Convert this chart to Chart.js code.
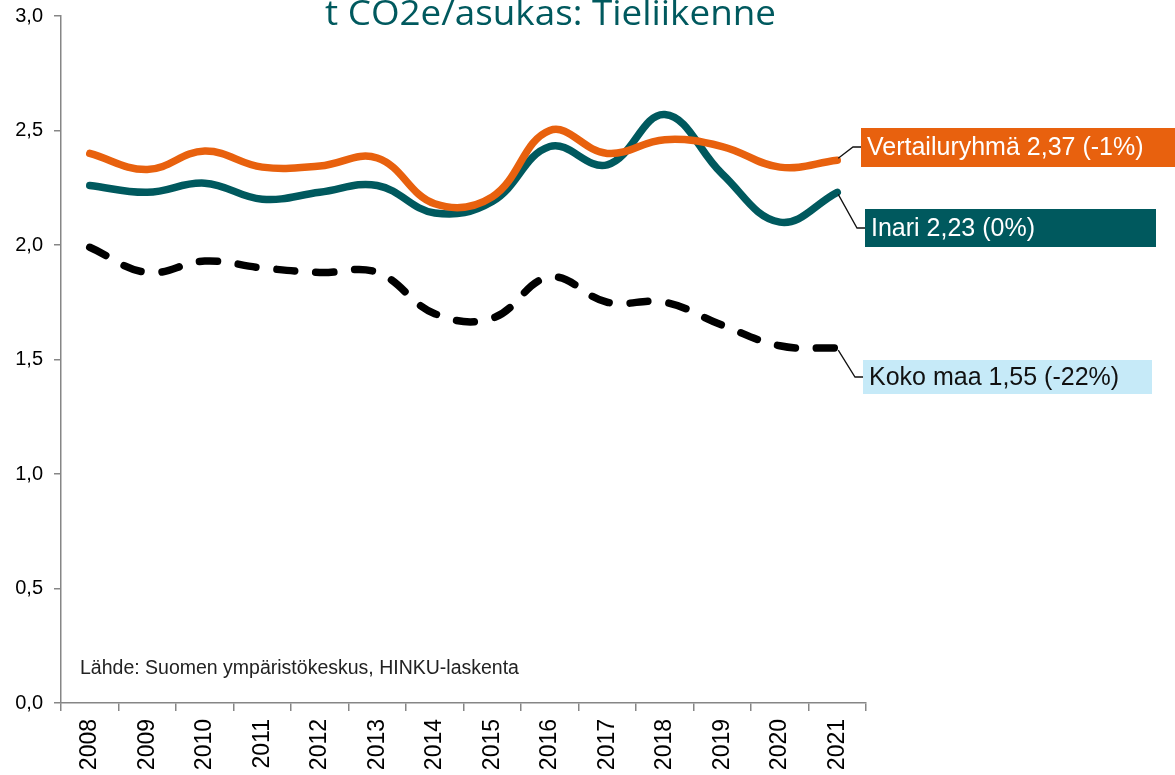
<!DOCTYPE html>
<html>
<head>
<meta charset="utf-8">
<script src="https://cdn.jsdelivr.net/npm/chart.js@4.4.0/dist/chart.umd.min.js"></script>
<style>
  html, body { margin: 0; padding: 0; background: #fff; }
  #wrap { width: 1175px; height: 775px; position: relative; }
</style>
</head>
<body>
<div id="wrap"><canvas id="chart"></canvas></div>
<script>
// data
const years = ["2008", "2009", "2010", "2011", "2012", "2013", "2014", "2015", "2016", "2017", "2018", "2019", "2020", "2021"];
const vertailuryhma = [2.40, 2.33, 2.41, 2.34, 2.345, 2.38, 2.18, 2.21, 2.50, 2.40, 2.46, 2.43, 2.34, 2.37];
const inari = [2.26, 2.23, 2.27, 2.20, 2.23, 2.26, 2.14, 2.19, 2.43, 2.35, 2.57, 2.31, 2.10, 2.23];
const kokoMaa = [1.99, 1.88, 1.93, 1.90, 1.88, 1.88, 1.70, 1.68, 1.86, 1.75, 1.75, 1.65, 1.56, 1.55];
const yTicks = [0, 0.5, 1, 1.5, 2, 2.5, 3];

const seriesLabels = ["Vertailuryhmä 2,37 (-1%)", "Inari 2,23 (0%)", "Koko maa 1,55 (-22%)"];

const ORANGE = "#E8610E";
const TEAL = "#00595E";
const LIGHTBLUE = "#C6EAF8";
const AXIS = "#868686";

// title, source note and end labels
const extras = {
  id: "extras",
  afterDraw(chart) {
    const ctx = chart.ctx;
    ctx.save();

    // title is a bit wider than the font, stretch it to the same width
    const title = "t CO2e/asukas: Tieliikenne";
    ctx.fillStyle = TEAL;
    ctx.font = "34px 'Open Sans'";
    ctx.textAlign = "left";
    ctx.textBaseline = "alphabetic";
    const tw = ctx.measureText(title).width;
    ctx.save();
    ctx.translate(325, 25);
    ctx.scale(451 / tw, 1);
    ctx.fillText(title, 0, 0);
    ctx.restore();

    ctx.fillStyle = "#222";
    ctx.font = "19.5px 'Liberation Sans', Arial";
    ctx.fillText("Lähde: Suomen ympäristökeskus, HINKU-laskenta", 80, 674);

    const boxes = [
      { x: 861, y: 128, w: 320, h: 39, bg: ORANGE, fg: "#fff", ly: 147, lx: 853 },
      { x: 865, y: 209, w: 291, h: 38, bg: TEAL, fg: "#fff", ly: 228, lx: 857 },
      { x: 863, y: 360, w: 289, h: 34, bg: LIGHTBLUE, fg: "#111", ly: 377, lx: 855 },
    ];
    boxes.forEach((b, i) => {
      const meta = chart.getDatasetMeta(i);
      const pt = meta.data[meta.data.length - 1];
      ctx.strokeStyle = "#111";
      ctx.lineWidth = 1.3;
      ctx.beginPath();
      ctx.moveTo(pt.x + 1, pt.y + (b.ly < pt.y ? -2 : 2));
      ctx.lineTo(b.lx, b.ly);
      ctx.lineTo(b.x, b.ly);
      ctx.stroke();

      ctx.fillStyle = b.bg;
      ctx.fillRect(b.x, b.y, b.w, b.h);
      ctx.fillStyle = b.fg;
      ctx.font = "25px 'Liberation Sans', Arial";
      ctx.textBaseline = "middle";
      ctx.fillText(seriesLabels[i], b.x + 6, b.y + b.h / 2 + 1);
    });
    ctx.restore();
  },
};

const lineDefaults = {
  borderWidth: 7.5,
  tension: 0.4,
  pointRadius: 0,
  pointHoverRadius: 0,
  fill: false,
  borderCapStyle: "round",
  borderJoinStyle: "round",
};

new Chart(document.getElementById("chart"), {
  type: "line",
  data: {
    labels: years,
    datasets: [
      { label: "Vertailuryhmä", data: vertailuryhma, borderColor: ORANGE, ...lineDefaults },
      { label: "Inari", data: inari, borderColor: TEAL, ...lineDefaults },
      { label: "Koko maa", data: kokoMaa, borderColor: "#000", borderDash: [18, 21], ...lineDefaults },
    ],
  },
  options: {
    responsive: true,
    maintainAspectRatio: false,
    animation: false,
    layout: { autoPadding: false, padding: { top: 16, right: 309, left: 0, bottom: 0 } },
    plugins: { legend: { display: false }, tooltip: { enabled: false } },
    scales: {
      x: {
        offset: true,
        grid: { offset: true, drawOnChartArea: false, color: AXIS, tickLength: 8, lineWidth: 1.5 },
        border: { color: AXIS, width: 1.5 },
        ticks: {
          color: "#000",
          font: { family: "'Liberation Sans', Arial", size: 23 },
          maxRotation: 90,
          minRotation: 90,
          padding: 8,
        },
        afterFit(scale) { scale.height = 72; },
      },
      y: {
        min: 0,
        max: 3,
        afterBuildTicks(scale) { scale.ticks = yTicks.map((v) => ({ value: v })); },
        grid: { drawOnChartArea: false, color: AXIS, tickLength: 7, lineWidth: 1.5 },
        border: { color: AXIS, width: 1.5 },
        ticks: {
          color: "#000",
          font: { family: "'Liberation Sans', Arial", size: 20 },
          padding: 11,
          callback: (v) => v.toFixed(1).replace(".", ","),
        },
        afterFit(scale) {
          scale.width = 61;
          scale.paddingTop = 0;
          scale.paddingBottom = 0;
        },
      },
    },
  },
  plugins: [extras],
});
</script>
</body>
</html>
